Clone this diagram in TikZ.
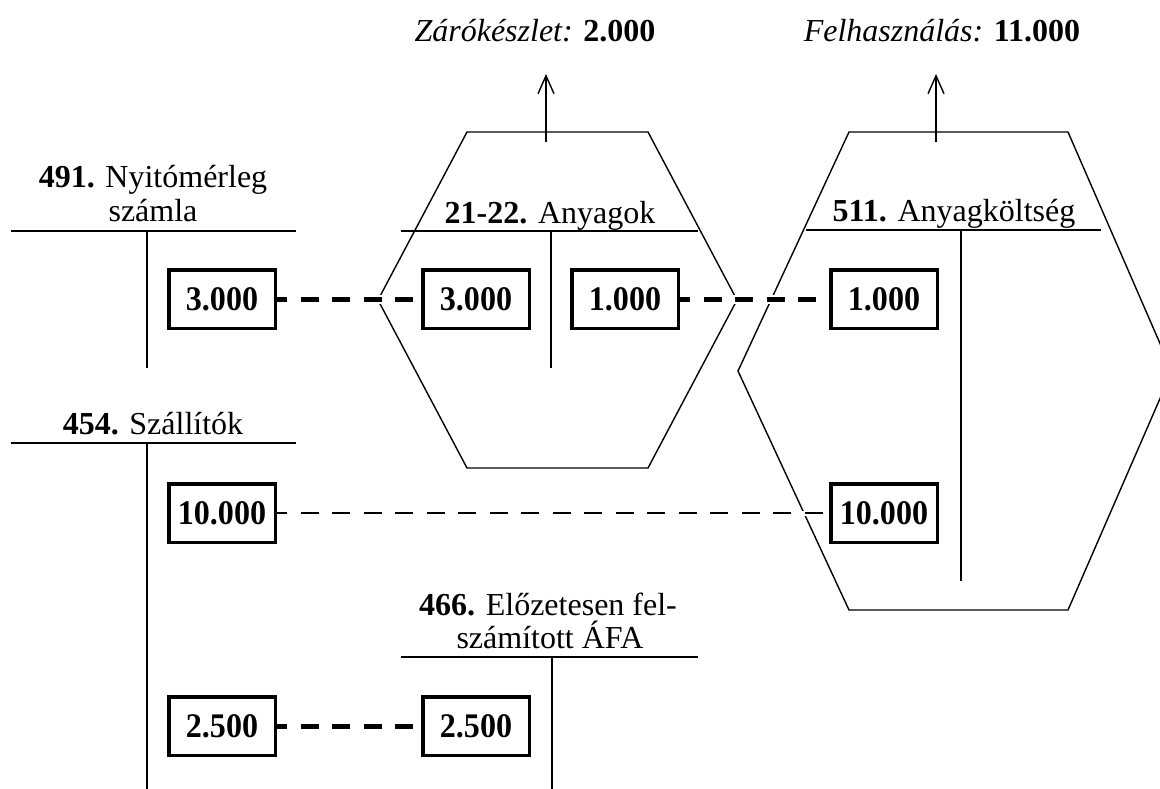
\documentclass[tikz,border=0pt]{standalone}
\usepackage{fontspec}
\setmainfont{Liberation Serif}
\newfontfamily\numfont[FakeStretch=0.93]{Liberation Serif}
\usetikzlibrary{arrows.meta}
\begin{document}
\begin{tikzpicture}[x=1pt,y=-1pt,
  txt/.style={font=\fontsize{32}{36}\selectfont, inner sep=0pt, anchor=base},
  hexline/.style={line width=1.4pt, line join=miter},
  tline/.style={line width=1.4pt},
  amount/.style={draw, line width=3.5pt, fill=white, minimum width=106.5pt,
    minimum height=58.5pt, inner sep=0pt, font=\numfont\fontsize{34.5}{38}\selectfont\bfseries},
  thickdash/.style={line width=5pt, dash pattern=on 18pt off 13.5pt, dash phase=8pt},
  thindash/.style={line width=1.4pt, dash pattern=on 18pt off 13.5pt, dash phase=8pt},
  halo/.style={white, line width=#1, shorten <=2pt, shorten >=2pt},
  outarrow/.style={line width=1.4pt, -{Straight Barb[length=18pt,width=16pt,line width=1.4pt]}}
]
\useasboundingbox (0,0) rectangle (1160,789);

% hexagons
\draw[hexline] (467,132) -- (648,132) -- (737,300) -- (648,468) -- (467,468) -- (378,300) -- cycle;
\draw[hexline] (849,132) -- (1068,132) -- (1172,371) -- (1068,610) -- (849,610) -- (738,371) -- cycle;

% outgoing arrows
\coordinate (a1s) at (546,142);
\coordinate (a1e) at (546,74);
\coordinate (a2s) at (936,142);
\coordinate (a2e) at (936,74);
\draw[outarrow] (a1s) -- (a1e);
\draw[outarrow] (a2s) -- (a2e);
\node[txt] (zaro) at (535,42) {\textit{Zárókészlet:} \textbf{2.000}};
\node[txt] (felh) at (942,42) {\textit{Felhasználás:} \textbf{11.000}};

% T-accounts
\draw[tline] (11,231) -- (296,231);
\draw[tline] (147,231) -- (147,368);
\node[txt] (t491a) at (153,187) {\textbf{491.} Nyitómérleg};
\node[txt] (t491b) at (153,222) {számla};

\draw[tline] (401,231) -- (698,231);
\draw[tline] (551,231) -- (551,368);
\node[txt] (t2122) at (550,223) {\textbf{21-22.} Anyagok};

\draw[tline] (806,230) -- (1101,230);
\draw[tline] (961,230) -- (961,581);
\node[txt] (t511) at (954,222) {\textbf{511.} Anyagköltség};

\draw[tline] (11,443) -- (296,443);
\draw[tline] (147,443) -- (147,789);
\node[txt] (t454) at (153,434) {\textbf{454.} Szállítók};

\draw[tline] (401,657) -- (698,657);
\draw[tline] (552,657) -- (552,789);
\node[txt] (t466a) at (548,615) {\textbf{466.} Előzetesen fel-};
\node[txt] (t466b) at (550,648) {számított ÁFA};

% amounts
\node[amount] (b1) at (222,299) {3.000};
\node[amount] (b2) at (476,299) {3.000};
\node[amount] (b3) at (625,299) {1.000};
\node[amount] (b4) at (884,299) {1.000};
\node[amount] (b5) at (222,513) {10.000};
\node[amount] (b6) at (884,513) {10.000};
\node[amount] (b7) at (222,726) {2.500};
\node[amount] (b8) at (476,726) {2.500};

% connectors
\draw[halo=9pt] (b1.east) -- (b2.west);
\draw[thickdash] (b1.east) -- (b2.west);
\draw[halo=9pt] (b3.east) -- (b4.west);
\draw[thickdash] (b3.east) -- (b4.west);
\draw[halo=5pt] (b5.east) -- (b6.west);
\draw[thindash] (b5.east) -- (b6.west);
\draw[halo=9pt] (b7.east) -- (b8.west);
\draw[thickdash] (b7.east) -- (b8.west);
\end{tikzpicture}
\end{document}
